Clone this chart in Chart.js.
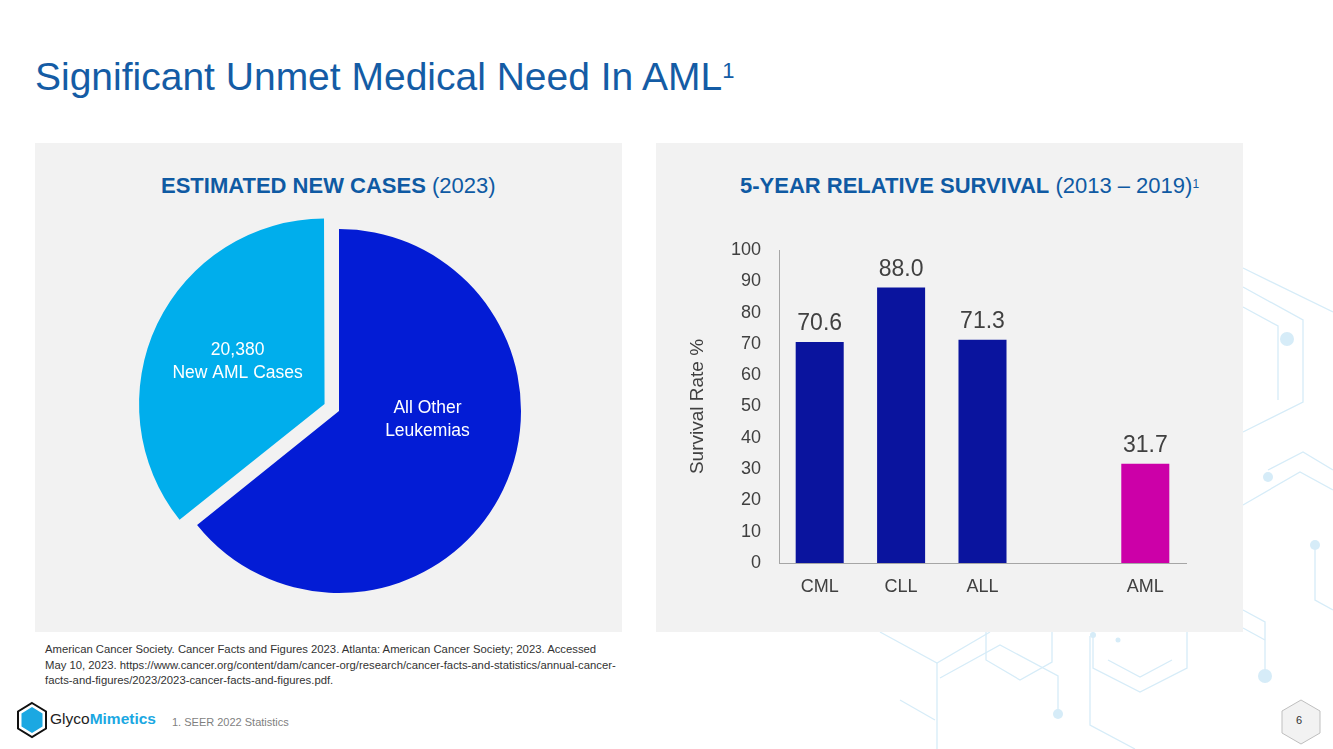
<!DOCTYPE html>
<html>
<head>
<meta charset="utf-8">
<script src="https://cdn.jsdelivr.net/npm/chart.js@4.4.0/dist/chart.umd.min.js"></script>
<style>
  html, body { margin: 0; padding: 0; background: #fff; }
  body { width: 1333px; height: 749px; position: relative; overflow: hidden; font-family: 'Liberation Sans', Arial, sans-serif; }
  .abs { position: absolute; }
  .title { left: 35px; top: 57px; font-size: 39px; line-height: 39px; color: #145CA5; white-space: nowrap; }
  .title sup { font-size: 22px; position: relative; top: -6px; vertical-align: top; }
  .panel { background: #F2F2F2; width: 587px; height: 489px; top: 143px; }
  .ptitle { top: 175px; font-size: 22px; line-height: 22px; color: #0F5AA3; white-space: nowrap; }
  .ptitle b { font-weight: bold; }
  .ptitle sup { font-size: 12px; vertical-align: top; position: relative; top: -2px; }
  .foot { left: 45px; top: 642px; font-size: 11.3px; line-height: 15.5px; color: #333; width: 580px; }
  .logo { left: 50px; top: 710px; font-size: 15.5px; color: #222; white-space: nowrap; }
  .logo b { color: #1BA8E2; }
  .seer { left: 172px; top: 716px; font-size: 11px; color: #7F7F7F; white-space: nowrap; }
  .pnum { left: 1296px; top: 714px; font-size: 11px; color: #333; }
  canvas { position: absolute; }
</style>
</head>
<body>
<svg class="abs" style="left:0;top:0" width="1333" height="749">
  <g fill="none" stroke="#D6ECF8" stroke-width="1.3">
    <polyline points="1243,268 1333,312"/>
    <polyline points="1243,287 1303,320 1303,402 1243,432"/>
    <polyline points="1243,307 1278,326 1278,400"/>
    <polyline points="1268,470 1303,452 1333,470"/>
    <polyline points="1243,505 1300,472 1333,490"/>
    <polyline points="1315,545 1315,600 1333,610"/>
    <polyline points="1265,672 1265,622 1243,610"/>
    <polyline points="880,632 937,663 990,632"/>
    <polyline points="937,663 937,749"/>
    <polyline points="940,678 1000,645 1058,676 1058,712"/>
    <polyline points="986,632 986,660 1020,680 1052,662 1052,632"/>
    <polyline points="1090,636 1090,725 1135,749"/>
    <polyline points="1093,632 1093,668 1140,692 1187,668 1187,632"/>
    <polyline points="1108,660 1140,677 1172,660"/>
    <polyline points="1243,628 1265,640"/>
    <polyline points="900,700 935,720"/>
  </g>
  <g fill="#D6ECF8">
    <circle cx="1287" cy="339" r="7"/>
    <circle cx="1268" cy="477" r="5"/>
    <circle cx="1315" cy="545" r="5"/>
    <circle cx="1265" cy="676" r="7"/>
    <circle cx="1058" cy="714" r="5"/>
    <circle cx="1093" cy="635" r="3"/>
    <circle cx="1118" cy="640" r="2.5"/>
  </g>
  <!-- logo hexagon -->
  <polygon points="32,703 46,711.5 46,728.5 32,737 18,728.5 18,711.5" fill="#fff" stroke="#111" stroke-width="2"/>
  <polygon points="32,707 42.5,713.5 42.5,726.5 32,733 21.5,726.5 21.5,713.5" fill="#1BA8E2"/>
  <!-- page number hexagon -->
  <polygon points="1301,700 1320,711 1320,733 1301,744 1282,733 1282,711" fill="#F2F2F2" stroke="#BFBFBF" stroke-width="1"/>
</svg>

<div class="abs title">Significant Unmet Medical Need In AML<sup>1</sup></div>

<div class="abs panel" style="left:35px"></div>
<div class="abs panel" style="left:656px"></div>

<div class="abs ptitle" style="left:161px"><b>ESTIMATED NEW CASES</b> (2023)</div>
<div class="abs ptitle" style="left:740px"><b>5-YEAR RELATIVE SURVIVAL</b> (2013 – 2019)<sup>1</sup></div>

<canvas id="casesChart" width="587" height="489" style="left:35px;top:143px;width:587px;height:489px"></canvas>
<canvas id="survivalChart" width="587" height="489" style="left:656px;top:143px;width:587px;height:489px"></canvas>

<div class="abs foot">American Cancer Society. Cancer Facts and Figures 2023. Atlanta: American Cancer Society; 2023. Accessed<br>May 10, 2023. https://www.cancer.org/content/dam/cancer-org/research/cancer-facts-and-statistics/annual-cancer-facts-and-figures/2023/2023-cancer-facts-and-figures.pdf.</div>
<div class="abs logo">Glyco<b>Mimetics</b></div>
<div class="abs seer">1. SEER 2022 Statistics</div>
<div class="abs pnum">6</div>

<script>
// ---- data ----
const caseLabels = ['All Other Leukemias', 'New AML Cases'];
const caseValues = [36600, 20380];   // AML from label, "other"
const caseText = [['All Other', 'Leukemias'], ['20,380', 'New AML Cases']];

const survivalLabels = ['CML', 'CLL', 'ALL', '', 'AML'];
const survivalValues = [70.6, 88.0, 71.3, null, 31.7];
const survivalTicks = [0, 100, 10];   // min, max, step

const FONT = "'Liberation Sans', Arial, sans-serif";
const TEXT = '#404040';

document.addEventListener('DOMContentLoaded', function() {

    // ========== PIE: ESTIMATED NEW CASES ==========
    // text anchors as fractions of the radius, from the pie centre
    const pieTextPos = [[0.486, 0.05], [-0.557, -0.27]];
    const pieText = {
        id: 'pieText',
        afterDatasetsDraw(chart) {
            const ctx = chart.ctx;
            const arcs = chart.getDatasetMeta(0).data;
            ctx.save();
            ctx.fillStyle = '#FFFFFF';
            ctx.font = '17.5px ' + FONT;
            ctx.textAlign = 'center';
            ctx.textBaseline = 'middle';
            arcs.forEach((arc, i) => {
                const r = arc.outerRadius;
                const x = arc.x + pieTextPos[i][0] * r;
                const y = arc.y + pieTextPos[i][1] * r;
                const lines = caseText[i];
                lines.forEach((line, j) => {
                    ctx.fillText(line, x, y + (j - (lines.length - 1) / 2) * 23);
                });
            });
            ctx.restore();
        }
    };

    new Chart(document.getElementById('casesChart'), {
        type: 'pie',
        data: {
            labels: caseLabels,
            datasets: [{
                data: caseValues,
                backgroundColor: ['#031CD5', '#00AEEC'],
                borderWidth: 0,
                offset: [0, 64]   // chart.js moves the slice by offset/4
            }]
        },
        options: {
            responsive: false,
            animation: false,
            radius: 182,
            layout: { padding: { left: 104, right: 83, top: 68, bottom: 21 } },
            plugins: { legend: { display: false }, tooltip: { enabled: false } }
        },
        plugins: [pieText]
    });

    // ========== BARS: 5-YEAR RELATIVE SURVIVAL ==========
    const barValues = {
        id: 'barValues',
        afterDatasetsDraw(chart) {
            const ctx = chart.ctx;
            const meta = chart.getDatasetMeta(0);
            ctx.save();
            ctx.fillStyle = TEXT;
            ctx.font = '23px ' + FONT;
            ctx.textAlign = 'center';
            ctx.textBaseline = 'alphabetic';
            meta.data.forEach((bar, i) => {
                const v = survivalValues[i];
                if (v === null) return;
                ctx.fillText(v.toFixed(1), bar.x, bar.y - 12);
            });
            ctx.restore();
        }
    };

    new Chart(document.getElementById('survivalChart'), {
        type: 'bar',
        data: {
            labels: survivalLabels,
            datasets: [{
                data: survivalValues,
                backgroundColor: ['#0A149E', '#0A149E', '#0A149E', '#0A149E', '#CC00A8'],
                borderWidth: 0,
                barPercentage: 0.59,
                categoryPercentage: 1.0
            }]
        },
        options: {
            responsive: false,
            animation: false,
            layout: { padding: { left: 0, right: 57, top: 107, bottom: 0 } },
            plugins: { legend: { display: false }, tooltip: { enabled: false } },
            scales: {
                x: {
                    grid: { display: false, drawTicks: false },
                    border: { display: true, color: '#A6A6A6', width: 1 },
                    ticks: { color: TEXT, font: { family: FONT, size: 18 }, padding: 13 },
                    afterFit: s => { s.height = 69; }
                },
                y: {
                    min: survivalTicks[0],
                    max: survivalTicks[1],
                    grid: { display: false, drawTicks: false },
                    border: { display: true, color: '#A6A6A6', width: 1 },
                    ticks: { stepSize: survivalTicks[2], color: TEXT, font: { family: FONT, size: 18 }, padding: 18 },
                    title: {
                        display: true,
                        text: 'Survival Rate %',
                        color: TEXT,
                        font: { family: FONT, size: 19 },
                        padding: { top: 30, bottom: 0 }
                    },
                    afterFit: s => { s.width = 123; }
                }
            }
        },
        plugins: [barValues]
    });
});
</script>
</body>
</html>
